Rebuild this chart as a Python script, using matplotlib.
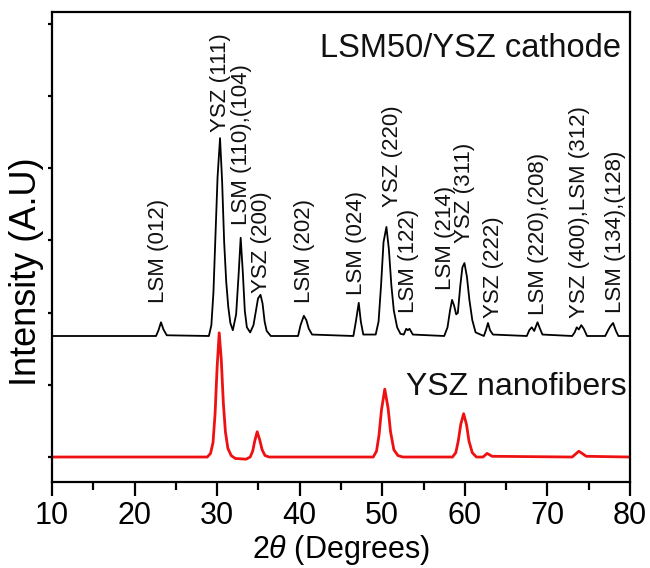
import matplotlib
matplotlib.use('Agg')
import matplotlib.pyplot as plt
from matplotlib.ticker import MultipleLocator, NullFormatter

plt.rcParams['font.family'] = ['Liberation Sans', 'DejaVu Sans']
plt.rcParams['mathtext.fontset'] = 'custom'
plt.rcParams['mathtext.it'] = 'Liberation Sans:italic'
plt.rcParams['mathtext.rm'] = 'Liberation Sans'

# LSM50/YSZ cathode pattern (intensity above its own baseline, arbitrary units)
cathode_2theta = [10.0, 22.6, 22.9, 23.2, 23.5, 23.9, 29.0, 29.3, 29.55, 29.8, 30.05,
                  30.35, 30.6, 30.85, 31.1, 31.35, 31.6, 31.9, 32.3, 32.6, 32.85,
                  33.1, 33.35, 33.6, 34.0, 34.4, 34.7, 34.95, 35.25, 35.5, 35.75,
                  36.0, 36.5, 39.8, 40.1, 40.5, 40.8, 41.1, 41.5, 46.5, 46.8,
                  47.15, 47.4, 47.7, 49.2, 49.55, 49.85, 50.15, 50.5, 50.8, 51.1,
                  51.4, 51.8, 52.2, 52.6, 52.9, 53.1, 53.3, 53.7, 57.5, 57.9,
                  58.2, 58.45, 58.7, 58.95, 59.15, 59.45, 59.7, 59.95, 60.25, 60.55,
                  60.9, 61.3, 62.3, 62.55, 62.8, 63.05, 63.4, 67.5, 67.8, 68.1,
                  68.4, 68.8, 69.1, 69.4, 73.0, 73.3, 73.55, 73.8, 74.1, 74.4,
                  74.8, 77.0, 77.35, 77.6, 77.95, 78.3, 78.6, 80.0]
cathode_intensity = [0.0, 0.0, 0.08, 0.19, 0.09, 0.01, 0.0, 0.15, 0.6, 1.4, 2.2,
                     2.74, 2.15, 1.3, 0.75, 0.4, 0.18, 0.08, 0.3, 0.85, 1.36,
                     0.9, 0.35, 0.12, 0.05, 0.15, 0.35, 0.52, 0.57, 0.45, 0.2,
                     0.07, 0.0, 0.0, 0.15, 0.28, 0.22, 0.1, 0.02, 0.0, 0.2,
                     0.46, 0.2, 0.02, 0.02, 0.2, 0.7, 1.3, 1.51, 1.2, 0.7,
                     0.35, 0.12, 0.03, 0.02, 0.1, 0.08, 0.1, 0.02, 0.0, 0.12,
                     0.35, 0.50, 0.42, 0.3, 0.32, 0.7, 0.95, 1.01, 0.82, 0.5,
                     0.22, 0.05, 0.0, 0.08, 0.18, 0.08, 0.02, 0.0, 0.08, 0.12,
                     0.07, 0.19, 0.1, 0.02, 0.0, 0.05, 0.12, 0.09, 0.15, 0.1,
                     0.0, 0.0, 0.08, 0.13, 0.18, 0.07, 0.0, 0.0]

# YSZ nanofiber pattern
fiber_2theta = [10.0, 28.8, 29.2, 29.5, 29.75, 30.0, 30.25, 30.5, 30.75, 31.0, 31.3,
                31.7, 32.2, 33.5, 34.0, 34.3, 34.55, 34.85, 35.15, 35.45, 35.8,
                36.3, 48.9, 49.3, 49.6, 49.9, 50.3, 50.7, 51.0, 51.4, 51.9,
                52.5, 58.5, 58.9, 59.2, 59.5, 59.85, 60.2, 60.5, 60.9, 61.4,
                62.2, 62.7, 63.3, 73.0, 73.5, 73.8, 74.2, 74.7, 80.0]
fiber_intensity = [0.0, 0.0, 0.05, 0.2, 0.6, 1.25, 1.72, 1.35, 0.75, 0.35, 0.12,
                   0.02, -0.02, -0.03, 0.0, 0.08, 0.22, 0.35, 0.24, 0.1, 0.02,
                   0.0, 0.0, 0.08, 0.3, 0.65, 0.94, 0.68, 0.35, 0.1, 0.02,
                   0.0, 0.0, 0.06, 0.22, 0.45, 0.60, 0.45, 0.22, 0.06, 0.0,
                   0.0, 0.05, 0.01, 0.0, 0.05, 0.08, 0.05, 0.01, 0.0]

peak_labels = ['LSM (012)', 'YSZ (111)', 'LSM (110),(104)', 'YSZ (200)', 'LSM (202)',
               'LSM (024)', 'YSZ (220)', 'LSM (122)', 'LSM (214)', 'YSZ (311)',
               'YSZ (222)', 'LSM (220),(208)', 'YSZ (400),LSM (312)', 'LSM (134),(128)']
peak_label_2theta = [22.9, 30.35, 32.9, 35.4, 40.6, 46.9, 51.2, 53.2, 57.7, 60.0,
                     63.5, 68.9, 73.9, 78.3]

# layout (not data): vertical offset of the cathode trace, label bottoms
cathode_offset = 1.676
label_bottom = [2.13, 4.50, 3.21, 2.27, 2.13, 2.24, 3.46, 1.99, 2.31, 2.96,
                1.93, 1.97, 1.93, 1.99]

fig = plt.figure(figsize=(6.5, 5.68), dpi=100)
ax = fig.add_axes([52/650, 1-482/568, 578/650, 470/568])

ax.plot(cathode_2theta, [v + cathode_offset for v in cathode_intensity],
        color='black', lw=1.3)
ax.plot(fiber_2theta, fiber_intensity, color='#ee1111', lw=2.0)

for lab, xx, yy in zip(peak_labels, peak_label_2theta, label_bottom):
    ax.text(xx, yy, lab, rotation=90, ha='center', va='bottom', fontsize=16,
            color='#111111')

ax.text(0.985, 0.905, 'LSM50/YSZ cathode', transform=ax.transAxes, ha='right',
        va='baseline', fontsize=23.5, color='#111111')
ax.text(0.995, 0.185, 'YSZ nanofibers', transform=ax.transAxes, ha='right',
        va='baseline', fontsize=23, color='#111111')

ax.set_xlim(10, 80)
ax.set_ylim(-0.346, 6.163)
ax.xaxis.set_major_locator(MultipleLocator(10))
ax.xaxis.set_minor_locator(MultipleLocator(5))
ax.yaxis.set_major_locator(MultipleLocator(1))
ax.yaxis.set_major_formatter(NullFormatter())
ax.tick_params(axis='x', which='major', direction='out', length=10, width=1.6,
               labelsize=22, pad=3.5)
ax.tick_params(axis='x', which='minor', direction='out', length=6, width=1.6)
ax.tick_params(axis='y', which='major', direction='out', length=3, width=1.6)
ax.tick_params(top=False, right=False)
for s in ax.spines.values():
    s.set_linewidth(1.6)

fig.text(341/650, 1-550/568, r'2$\theta$ (Degrees)', ha='center', va='center',
         fontsize=22)
fig.text(27/650, 1-272/568, 'Intensity (A.U)', ha='center', va='center',
         rotation=90, fontsize=26)

fig.savefig('out.png', dpi=100)
